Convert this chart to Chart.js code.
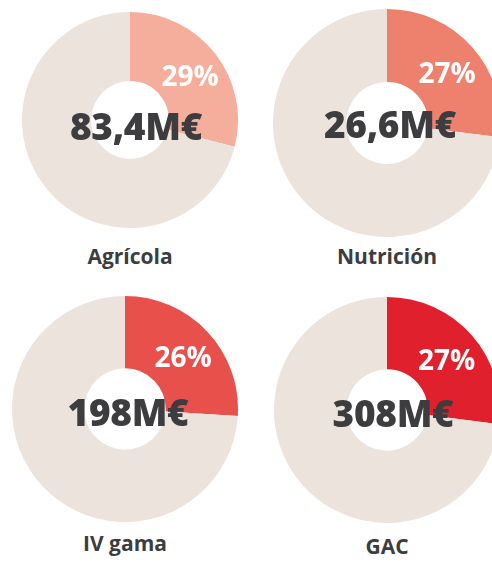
<!DOCTYPE html>
<html>
<head>
<meta charset="utf-8">
<script src="https://cdn.jsdelivr.net/npm/chart.js@4/dist/chart.umd.min.js"></script>
<style>
  html, body { margin: 0; padding: 0; background: #fff; }
  body { width: 492px; height: 563px; position: relative; overflow: hidden; font-family: "Open Sans", sans-serif; }
  .box { position: absolute; }
  .total { position: absolute; font-weight: 800; font-size: 37px; color: #3d3c3e; letter-spacing: -0.3px; transform: translate(-50%, -50%); white-space: nowrap; }
  .label { position: absolute; font-weight: 700; font-size: 21px; color: #3d3c3e; transform: translate(-50%, -50%); white-space: nowrap; }
</style>
</head>
<body>
<script>
// ================= DATA =================
const categories = ["Agrícola", "Nutrición", "IV gama", "GAC"];
const totals = ["83,4M€", "26,6M€", "198M€", "308M€"];
const shares = [29, 27, 26, 27];
const sliceColors = ["#f5ae9b", "#ee806e", "#e8514b", "#e1202d"];
const restColor = "#ebe3dc";

// layout of each donut: center, outer radius, total text center, label y
const layout = [
    { cx: 130, cy: 120, r: 108, tx: 136, ty: 125, ly: 256 },
    { cx: 387, cy: 123, r: 114, tx: 390, ty: 123, ly: 256 },
    { cx: 125, cy: 409, r: 113, tx: 128, ty: 411, ly: 543 },
    { cx: 387, cy: 410, r: 113, tx: 393, ty: 412, ly: 546 }
];

// percent label drawn inside the coloured slice
const pctLabel = {
    id: "pctLabel",
    afterDatasetsDraw(chart) {
        const arc = chart.getDatasetMeta(0).data[0];
        const pos = arc.tooltipPosition();
        const ctx = chart.ctx;
        ctx.save();
        ctx.fillStyle = "#ffffff";
        ctx.font = "bold 28px 'Open Sans', sans-serif";
        ctx.textAlign = "center";
        ctx.textBaseline = "middle";
        ctx.fillText(chart.data.datasets[0].data[0] + "%", pos.x + 2, pos.y + 3);
        ctx.restore();
    }
};

categories.forEach((name, i) => {
    const L = layout[i];
    const size = L.r * 2;

    const box = document.createElement("div");
    box.className = "box";
    box.style.left = (L.cx - L.r) + "px";
    box.style.top = (L.cy - L.r) + "px";
    box.style.width = size + "px";
    box.style.height = size + "px";
    const canvas = document.createElement("canvas");
    box.appendChild(canvas);
    document.body.appendChild(box);

    new Chart(canvas, {
        type: "doughnut",
        data: {
            labels: [name, "Resto"],
            datasets: [{
                data: [shares[i], 100 - shares[i]],
                backgroundColor: [sliceColors[i], restColor],
                borderWidth: 0
            }]
        },
        options: {
            responsive: true,
            maintainAspectRatio: false,
            animation: false,
            cutout: "36%",
            plugins: {
                legend: { display: false },
                tooltip: { enabled: false }
            }
        },
        plugins: [pctLabel]
    });

    const total = document.createElement("div");
    total.className = "total";
    total.textContent = totals[i];
    total.style.left = L.tx + "px";
    total.style.top = L.ty + "px";
    document.body.appendChild(total);

    const label = document.createElement("div");
    label.className = "label";
    label.textContent = name;
    label.style.left = L.cx + "px";
    label.style.top = L.ly + "px";
    document.body.appendChild(label);
});
</script>
</body>
</html>
